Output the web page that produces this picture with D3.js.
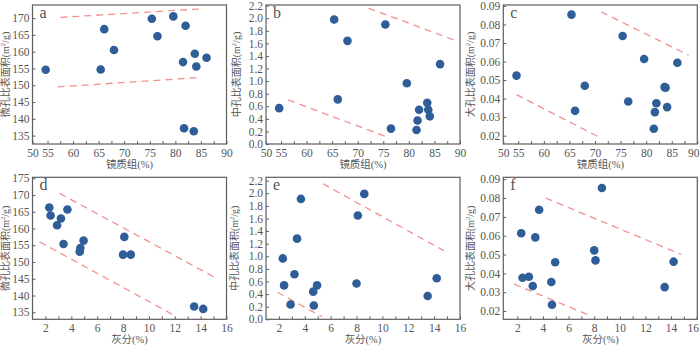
<!DOCTYPE html>
<html>
<head>
<meta charset="utf-8">
<script src="https://cdn.jsdelivr.net/npm/d3@7"></script>
<style>
  body { margin: 0; background: #fff; }
  svg text { font-family: "Liberation Serif", "Noto Sans CJK SC", serif; fill: #555; }
</style>
</head>
<body>
<script>
//#region data
// vitrinite content (%) and ash content (%) of the samples
let vitrinite = [54.4, 65.4, 66.1, 68.0, 75.4, 76.5, 79.6, 81.5, 81.7, 82.0, 83.6, 83.8, 84.1, 86.1];
let ash = [2.3, 2.4, 2.9, 3.2, 3.4, 3.7, 4.65, 4.7, 4.95, 8.0, 8.1, 8.6, 13.5, 14.2];
// specific surface area vs vitrinite (panels a, b, c)
let microA = [154.6, 154.7, 166.7, 160.5, 169.8, 164.6, 170.5, 156.9, 137.2, 167.7, 136.3, 159.4, 155.6, 158.2];
let mesoB = [0.57, 1.98, 0.71, 1.64, 1.90, 0.245, 0.966, 0.223, 0.374, 0.545, 0.654, 0.545, 0.44, 1.27];
let macroC = [0.0524, 0.0853, 0.0334, 0.0469, 0.0738, 0.0384, 0.0614, 0.0237, 0.0327, 0.0375, 0.0462, 0.0459, 0.0354, 0.0593];
// specific surface area vs ash (panels d, e, f)
let microD = [166.3, 163.9, 161.0, 163.0, 155.4, 165.7, 153.1, 154.2, 156.4, 152.2, 157.5, 152.2, 136.7, 136.0];
let mesoE = [0.966, 0.538, 0.235, 0.715, 1.28, 1.91, 0.439, 0.219, 0.538, 0.569, 1.646, 1.99, 0.37, 0.652];
let macroF = [0.0613, 0.0377, 0.0382, 0.0333, 0.0591, 0.0738, 0.0354, 0.0233, 0.0459, 0.0522, 0.0469, 0.0853, 0.0327, 0.0462];
// dashed envelope lines, [start, end] in data units
let boundsA = [[[57.5, 170.2], [84.6, 172.7]], [[57.0, 149.5], [84.6, 152.3]]];
let boundsB = [[[72.1, 2.16], [89.25, 1.64]], [[56.4, 0.70], [75.3, 0.125]]];
let boundsC = [[[71.2, 0.0868], [88.3, 0.0634]], [[54.4, 0.0421], [70.9, 0.0191]]];
let boundsD = [[[3.1, 170.5], [15.2, 145.2]], [[1.55, 156.0], [11.8, 134.4]]];
let boundsE = [[[5.4, 2.15], [14.75, 1.09]], [[1.87, 0.43], [5.35, 0.04]]];
let boundsF = [[[4.2, 0.080], [14.8, 0.050]], [[1.75, 0.0343], [7.7, 0.0175]]];
// tick labels
let vitTicks = [50, 55, 60, 65, 70, 75, 80, 85, 90];
let vitMinor = [57.5, 62.5, 67.5, 72.5, 77.5, 82.5, 87.5];
let ashTicks = [2, 4, 6, 8, 10, 12, 14, 16];
let ashMinor = [3, 5, 7, 9, 11, 13, 15];
let microTicks = [135, 140, 145, 150, 155, 160, 165, 170];
let microTicksD = [135, 140, 145, 150, 155, 160, 165, 170, 175];
let mesoTicks = [0, 0.2, 0.4, 0.6, 0.8, 1.0, 1.2, 1.4, 1.6, 1.8, 2.0, 2.2];
let macroTicks = [0.02, 0.03, 0.04, 0.05, 0.06, 0.07, 0.08, 0.09];
//#endregion

//#region layout
let svgWidth = 700, svgHeight = 345;
let plotW = 194;
let colLeft = [32.5, 266, 503.3];
let rowTop = [5, 177.3], plotH = [139, 142];
let pointR = 4.3;
let pointColor = "#2e5d98";
let dashColor = "#f29090";
let frameColor = "#5e5e5e";
//#endregion

let svg = d3.select("body").append("svg")
  .attr("width", svgWidth)
  .attr("height", svgHeight);

let panels = [
  { id: "a", row: 0, col: 0, xs: vitrinite, ys: microA, bounds: boundsA, xKind: "vit", yDomain: [132.5, 173.9], yTicks: microTicks, yFmt: d3.format("d"), yName: "微孔比表面积", titleOff: 24 },
  { id: "b", row: 0, col: 1, xs: vitrinite, ys: mesoB, bounds: boundsB, xKind: "vit", yDomain: [0, 2.21], yTicks: mesoTicks, yFmt: d3.format(".1f"), yName: "中孔比表面积", titleOff: 26 },
  { id: "c", row: 0, col: 2, xs: vitrinite, ys: macroC, bounds: boundsC, xKind: "vit", yDomain: [0.0155, 0.0905], yTicks: macroTicks, yFmt: d3.format(".2f"), yName: "大孔比表面积", titleOff: 29 },
  { id: "d", row: 1, col: 0, xs: ash, ys: microD, bounds: boundsD, xKind: "ash", xDomain: [1, 16], yDomain: [132.9, 175.3], yTicks: microTicksD, yFmt: d3.format("d"), yName: "微孔比表面积", titleOff: 24 },
  { id: "e", row: 1, col: 1, xs: ash, ys: mesoE, bounds: boundsE, xKind: "ash", xDomain: [1, 16], yDomain: [0, 2.253], yTicks: mesoTicks, yFmt: d3.format(".1f"), yName: "中孔比表面积", titleOff: 28 },
  { id: "f", row: 1, col: 2, xs: ash, ys: macroF, bounds: boundsF, xKind: "ash", xDomain: [0.9, 16.05], yDomain: [0.0156, 0.091], yTicks: macroTicks, yFmt: d3.format(".2f"), yName: "大孔比表面积", titleOff: 29 }
];

panels.forEach(p => drawPanel(p));

function drawPanel(p) {
  let left = colLeft[p.col], top = rowTop[p.row], h = plotH[p.row];
  let g = svg.append("g").attr("transform", `translate(${left}, ${top})`);

  // scales (vitrinite axis is compressed between 50 and 55, as in the original)
  let xScale = p.xKind === "vit"
    ? d3.scaleLinear().domain([50, 55, 90]).range([0, 15, plotW])
    : d3.scaleLinear().domain(p.xDomain).range([0, plotW]);
  let yScale = d3.scaleLinear().domain(p.yDomain).range([h, 0]);

  // dashed envelope lines
  let line = d3.line().x(d => xScale(d[0])).y(d => yScale(d[1]));
  g.selectAll(".bound").data(p.bounds).join("path")
    .attr("d", line)
    .attr("fill", "none")
    .attr("stroke", dashColor)
    .attr("stroke-width", 1.3)
    .attr("stroke-dasharray", "7,5");

  // points
  g.selectAll(".pt").data(p.xs.map((x, i) => [x, p.ys[i]])).join("circle")
    .attr("cx", d => xScale(d[0]))
    .attr("cy", d => yScale(d[1]))
    .attr("r", pointR)
    .attr("fill", pointColor);

  // x axis, ticks pointing inward
  let xTicks = p.xKind === "vit" ? vitTicks : ashTicks;
  let xMinor = p.xKind === "vit" ? vitMinor : ashMinor;
  g.append("g").attr("class", "ax").attr("transform", `translate(0, ${h})`)
    .call(d3.axisBottom(xScale).tickValues(xTicks).tickSize(-3).tickPadding(5).tickFormat(d3.format("d")));
  g.append("g").attr("class", "ax").attr("transform", `translate(0, ${h})`)
    .call(d3.axisBottom(xScale).tickValues(xMinor).tickSize(-3).tickFormat(""));

  // y axis
  g.append("g").attr("class", "ax")
    .call(d3.axisLeft(yScale).tickValues(p.yTicks).tickSize(-3).tickPadding(3).tickFormat(p.yFmt));

  g.selectAll(".ax").attr("font-family", null).attr("font-size", null);
  g.selectAll(".domain").remove();
  g.selectAll(".tick line").attr("stroke", frameColor).attr("stroke-width", 1);
  g.selectAll(".tick text").attr("font-size", 11.5).attr("fill", "#555");
  // keep the last x label of the right-hand panels inside the page
  if (p.col === 2) {
    let last = xTicks[xTicks.length - 1];
    g.selectAll(".tick text").filter(d => d === last).attr("dx", -4);
  }

  // frame
  g.append("rect")
    .attr("width", plotW).attr("height", h)
    .attr("fill", "none")
    .attr("stroke", frameColor)
    .attr("stroke-width", 1.2);

  // panel letter
  g.append("text").text(p.id)
    .attr("x", 7).attr("y", 13)
    .attr("font-size", 16);

  // x label
  g.append("text")
    .attr("x", plotW / 2).attr("y", h + 24)
    .attr("text-anchor", "middle")
    .attr("font-size", 10.5)
    .text(p.xKind === "vit" ? "镜质组(%)" : "灰分(%)");

  // y label with superscript
  let yLabel = g.append("text")
    .attr("transform", `translate(${-p.titleOff}, ${h / 2}) rotate(-90)`)
    .attr("text-anchor", "middle")
    .attr("font-size", 10);
  yLabel.append("tspan").text(p.yName + "(m");
  yLabel.append("tspan").text("2").attr("font-size", 6.5).attr("dy", -4);
  yLabel.append("tspan").text("/g)").attr("dy", 4);
}
</script>
</body>
</html>
